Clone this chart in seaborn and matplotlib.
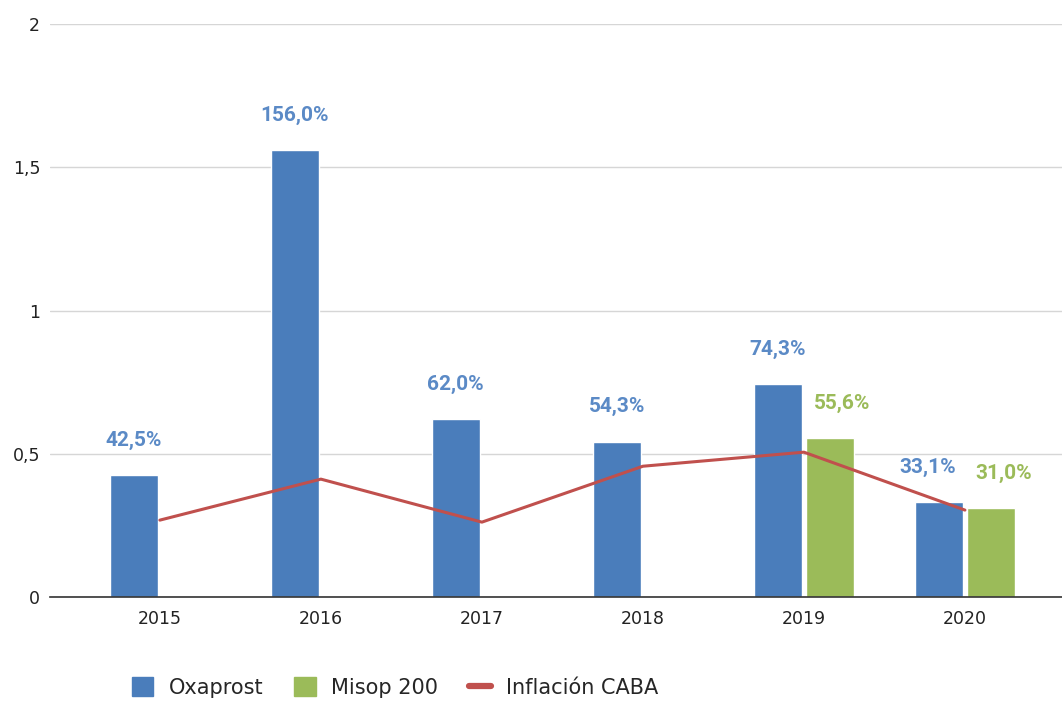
import pandas as pd
import numpy as np
import matplotlib
matplotlib.use("Agg")
import matplotlib.pyplot as plt
import seaborn as sns
from matplotlib.ticker import FuncFormatter
from matplotlib.patches import Patch
from matplotlib.lines import Line2D

# ====================== data ======================
years = ["2015", "2016", "2017", "2018", "2019", "2020"]
oxaprost = [0.425, 1.560, 0.620, 0.543, 0.743, 0.331]
misop = [np.nan, np.nan, np.nan, np.nan, 0.556, 0.310]
inflacion = [0.269, 0.412, 0.262, 0.457, 0.506, 0.304]
series_names = ["Oxaprost", "Misop 200", "Inflación CABA"]

blue = "#4a7dbb"
green = "#9bbb59"
red = "#c0504d"
blue_txt = "#5b8ac6"

df = pd.DataFrame({
    "Año": years * 2,
    "Valor": oxaprost + misop,
    "Serie": [series_names[0]] * len(years) + [series_names[1]] * len(years),
})

sns.set_style("white")
plt.rcParams["font.family"] = ["DejaVu Sans"]

fig = plt.figure(figsize=(10.62, 7.01), dpi=100)
ax = fig.add_axes([0.047, 0.148, 0.953, 0.818])

sns.barplot(data=df, x="Año", y="Valor", hue="Serie", order=years,
            palette=[blue, green], width=0.65, gap=0.08, saturation=1,
            legend=False, ax=ax, zorder=2)

sns.pointplot(x=years, y=inflacion, order=years, color=red, markers="",
              linewidth=2.2, ax=ax, zorder=3)

# value labels above bars; pushed apart a bit when both bars are present
for i, (cont, col) in enumerate(zip(ax.containers, [blue_txt, green])):
    for j, bar in enumerate(cont):
        h = bar.get_height()
        if np.isnan(h) or h == 0:
            continue
        dx = 0
        if i == 1:
            dx = 9
        elif not np.isnan(misop[j]) and abs(oxaprost[j] - misop[j]) < 0.1:
            dx = -8
        ax.annotate(f"{h * 100:.1f}%".replace(".", ","),
                    (bar.get_x() + bar.get_width() / 2, h),
                    xytext=(dx, 25), textcoords="offset points",
                    ha="center", va="center", color=col,
                    fontsize=15, fontweight="semibold", family="Roboto")

ax.set_ylim(0, 2)
ax.set_xlim(-0.683, 5.603)
ax.set_yticks([0, 0.5, 1, 1.5, 2])
ax.yaxis.set_major_formatter(FuncFormatter(lambda v, p: f"{v:g}".replace(".", ",")))
ax.grid(axis="y", color="#d6d6d6", linewidth=1, zorder=0)
ax.set_axisbelow(True)
for s in ["top", "right", "left"]:
    ax.spines[s].set_visible(False)
ax.spines["bottom"].set_color("#333333")
ax.spines["bottom"].set_linewidth(1.2)
ax.tick_params(axis="both", length=0, labelsize=12.5, colors="#222222")
ax.tick_params(axis="x", pad=9)
ax.tick_params(axis="y", pad=7)
ax.set_xlabel("")
ax.set_ylabel("")

handles = [Patch(facecolor=blue, edgecolor=blue),
           Patch(facecolor=green, edgecolor=green),
           Line2D([0], [0], color=red, linewidth=4.5)]
fig.legend(handles, series_names, loc="center", bbox_to_anchor=(0.372, 0.019),
           ncol=3, frameon=False, fontsize=15, handlelength=1.05,
           handleheight=1.0, columnspacing=1.5, handletextpad=0.72)

fig.savefig("out.png", dpi=100)
